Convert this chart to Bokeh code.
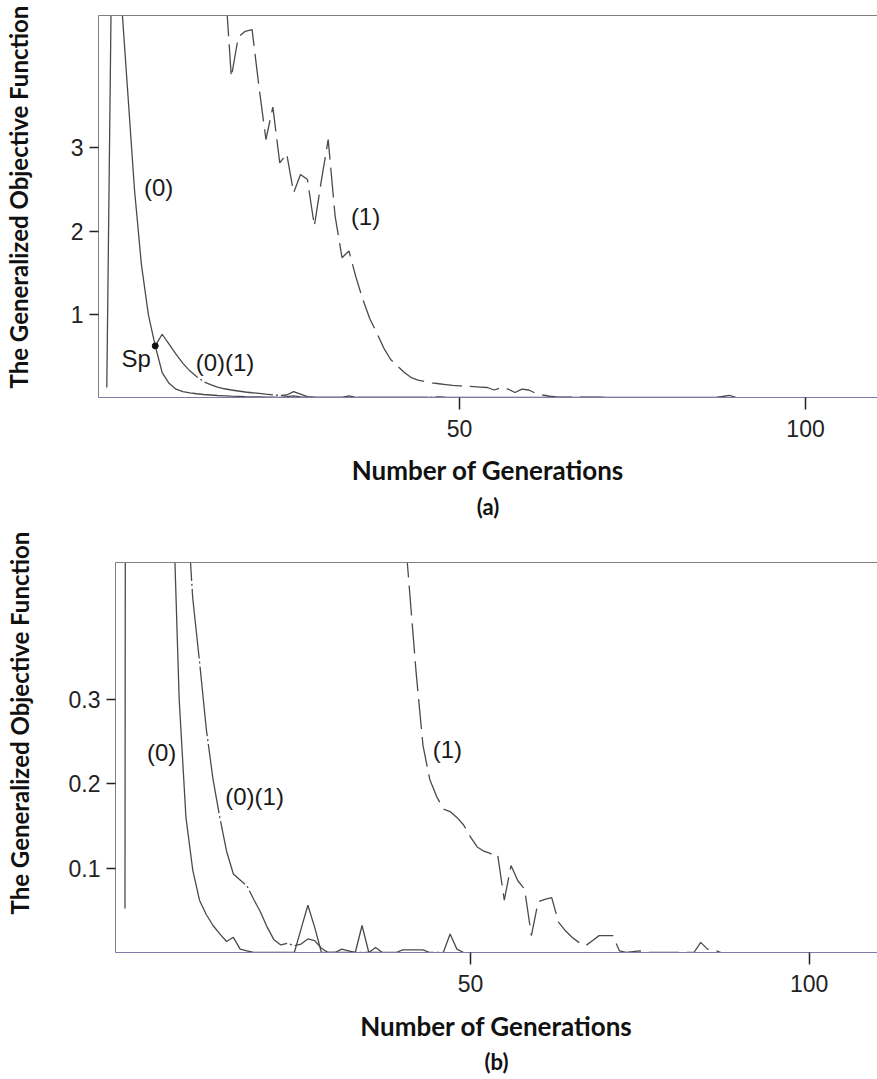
from bokeh.plotting import figure
from bokeh.models import Range1d, LinearAxis, FixedTicker, Label, Title
from bokeh.embed import file_html
from bokeh.resources import INLINE

# ---------------- panel (a) data ----------------
a0_gen = [-1, 0, 1, 2, 3, 4, 5, 6, 7, 8, 9, 10, 11, 12, 13, 14, 15, 16, 17, 18, 19, 20,
          21, 22, 23, 24, 25, 26, 27, 28, 33, 34, 35, 87, 88, 89, 90]
a0_val = [0.12, 7.5, 4.9, 3.7, 2.5, 1.6, 1.0, 0.62, 0.30, 0.17, 0.10, 0.07, 0.055, 0.045,
          0.036, 0.03, 0.024, 0.02, 0.016, 0.013, 0.01, 0.008, 0.006, 0.004, 0.003, 0.002,
          0.01, 0.02, 0.008, 0.0, 0.0, 0.02, 0.0, 0.0, 0.012, 0.025, 0.0]

a01_gen = [6, 7, 8, 9, 10, 11, 12, 13, 14, 15, 16, 17, 18, 19, 20, 21, 22, 23, 24, 25, 26,
           27, 28, 29, 30, 46, 47, 48]
a01_val = [0.62, 0.76, 0.64, 0.52, 0.41, 0.32, 0.25, 0.19, 0.155, 0.125, 0.105, 0.09, 0.078,
           0.066, 0.057, 0.05, 0.04, 0.032, 0.025, 0.03, 0.07, 0.04, 0.01, 0.004, 0.0, 0.0,
           0.008, 0.0]

a1_gen = [13, 14, 15, 16, 17, 18, 19, 20, 21, 22, 23, 24, 25, 26, 27, 28, 29, 30, 31, 32, 33,
          34, 35, 36, 37, 38, 39, 40, 41, 42, 43, 44, 45, 46, 47, 48, 49, 50, 51, 52, 53, 54,
          55, 56, 57, 58, 59, 60, 61, 62, 63, 64, 65, 70, 71]
a1_val = [12.0, 10.0, 7.5, 5.1, 3.85, 4.33, 4.40, 4.42, 3.73, 3.10, 3.49, 2.82, 2.93, 2.46,
          2.68, 2.62, 2.06, 2.6, 3.10, 2.18, 1.68, 1.76, 1.45, 1.18, 0.95, 0.78, 0.6, 0.46,
          0.38, 0.3, 0.24, 0.21, 0.19, 0.175, 0.165, 0.155, 0.145, 0.14, 0.135, 0.13, 0.125,
          0.12, 0.09, 0.12, 0.1, 0.06, 0.1, 0.09, 0.05, 0.03, 0.015, 0.008, 0.005, 0.005, 0.0]

# ---------------- panel (b) data ----------------
b0_gen = [-1, 0, 1, 2, 3, 4, 5, 6, 7, 8, 9, 10, 11, 12, 13, 14, 15, 16, 17, 18, 24, 25, 26,
          27, 28, 33, 34, 35, 36, 37]
b0_val = [0.052, 9.0, 4.9, 3.7, 2.5, 1.6, 1.0, 0.56, 0.30, 0.16, 0.098, 0.062, 0.045, 0.032,
          0.022, 0.013, 0.018, 0.004, 0.002, 0.0, 0.0, 0.028, 0.056, 0.03, 0.0, 0.0, 0.032,
          0.0, 0.006, 0.0]

b01_gen = [7, 8, 9, 10, 11, 12, 13, 14, 15, 16, 17, 18, 19, 20, 21, 22, 23, 24, 25, 26, 27,
           28, 29, 30, 31, 32, 33, 39, 40, 43, 44, 46, 47, 48, 49]
b01_val = [0.8, 0.55, 0.42, 0.345, 0.265, 0.205, 0.16, 0.12, 0.093, 0.086, 0.079, 0.063,
           0.048, 0.03, 0.015, 0.009, 0.011, 0.008, 0.01, 0.016, 0.014, 0.005, 0.0, 0.0,
           0.004, 0.002, 0.0, 0.0, 0.003, 0.003, 0.0, 0.0, 0.022, 0.004, 0.0]

b1_gen = [36, 37, 38, 39, 40, 41, 42, 43, 44, 45, 46, 47, 48, 49, 50, 51, 52, 53, 54, 55, 56,
          57, 58, 59, 60, 61, 62, 63, 64, 65, 66, 67, 68, 69, 70, 71, 72, 73, 75, 76, 83, 84,
          85, 86, 87]
b1_val = [3.0, 2.0, 1.2, 0.8, 0.53, 0.43, 0.33, 0.245, 0.205, 0.185, 0.17, 0.167, 0.16, 0.151,
          0.137, 0.125, 0.12, 0.117, 0.117, 0.062, 0.103, 0.085, 0.075, 0.02, 0.06, 0.063,
          0.065, 0.036, 0.026, 0.018, 0.012, 0.008, 0.014, 0.02, 0.02, 0.02, 0.002, 0.0,
          0.002, 0.0, 0.0, 0.012, 0.004, 0.003, 0.0]

x_ticks = [50, 100]
a_y_ticks = [1, 2, 3]
b_y_ticks = [0.1, 0.2, 0.3]
y_title = "The Generalized Objective Function"
x_title = "Number of Generations"

LINE = "#4a4a4a"
TICK_FONT = "Liberation Sans"
TITLE_FONT = "Lato"
DASH_01 = "70 3 2 3"
DASH_1 = "30 8"


def panel(width, height, xr, yr, yticks, b_top, b_bottom, b_left, tag,
          spacer, ytitle_offset, xtitle_standoff, tag_standoff):
    p = figure(width=width, height=height, x_range=Range1d(*xr), y_range=Range1d(*yr),
               output_backend="svg", toolbar_location=None,
               min_border_left=b_left, min_border_right=0, min_border_top=b_top,
               min_border_bottom=b_bottom)
    p.outline_line_color = None
    p.grid.visible = False

    xa = p.xaxis[0]
    xa.ticker = FixedTicker(ticks=x_ticks)
    xa.major_tick_out = 12
    xa.major_tick_in = 0
    xa.minor_tick_line_color = None
    xa.axis_line_color = "#7c7ca6"
    xa.major_tick_line_color = "#222222"
    xa.major_tick_line_width = 1.5
    xa.major_label_text_font = TICK_FONT
    xa.major_label_text_font_size = "23px"
    xa.major_label_text_color = "#222222"
    xa.major_label_standoff = 10
    xa.axis_label = x_title
    xa.axis_label_text_font = TITLE_FONT
    xa.axis_label_text_font_style = "bold"
    xa.axis_label_text_font_size = "26px"
    xa.axis_label_text_color = "#111111"
    xa.axis_label_standoff = xtitle_standoff

    ya = p.yaxis[0]
    ya.ticker = FixedTicker(ticks=yticks)
    ya.major_tick_out = 9
    ya.major_tick_in = 0
    ya.minor_tick_line_color = None
    ya.axis_line_color = "#808080"
    ya.major_tick_line_color = "#222222"
    ya.major_tick_line_width = 1.5
    ya.major_label_text_font = TICK_FONT
    ya.major_label_text_font_size = "23px"
    ya.major_label_text_color = "#222222"
    ya.major_label_standoff = 6

    # blank axis used only as horizontal spacing between tick labels and the title
    sp = LinearAxis(ticker=FixedTicker(ticks=yticks), axis_line_color=None,
                    major_tick_out=spacer, major_tick_in=0, major_tick_line_color="#ffffff",
                    major_tick_line_alpha=0.0,
                    minor_tick_out=0, minor_tick_line_color=None,
                    major_label_text_font_size="1px", major_label_text_color=None,
                    major_label_standoff=0)
    p.add_layout(sp, "left")

    yt = Title(text=y_title, align="left", offset=ytitle_offset, standoff=2,
               vertical_align="bottom", text_font=TITLE_FONT, text_font_style="bold",
               text_font_size="24px", text_color="#111111")
    p.add_layout(yt, "left")

    top = LinearAxis(ticker=FixedTicker(ticks=[]), axis_line_color="#808080",
                     major_tick_out=0, major_tick_in=0, minor_tick_line_color=None,
                     major_label_text_font_size="1px", major_label_text_color=None,
                     major_label_standoff=0)
    p.add_layout(top, "above")

    tt = Title(text=tag, align="center", standoff=tag_standoff, text_font=TITLE_FONT,
               text_font_style="bold", text_font_size="22px", text_color="#111111")
    p.add_layout(tt, "below")
    return p


def note(p, x, y, text, align="center"):
    p.add_layout(Label(x=x, y=y, text=text, text_font=TICK_FONT, text_font_size="24px",
                       text_color="#1a1a1a", text_align=align, text_baseline="middle"))


# ---------------- figure (a) ----------------
pa = panel(877, 524, (-2.2, 110.4), (0, 4.59), a_y_ticks, 15, 127, 98, "(a)",
           34, 9, 14, 4)
pa.line(a0_gen, a0_val, line_color=LINE, line_width=1.3)
pa.line(a01_gen, a01_val, line_color=LINE, line_width=1.3, line_dash=DASH_01)
pa.line(a1_gen, a1_val, line_color=LINE, line_width=1.3, line_dash=DASH_1)
pa.scatter([a01_gen[0]], [a01_val[0]], size=6, color="#111111")
note(pa, 6.5, 2.52, "(0)")
note(pa, 36.4, 2.17, "(1)")
note(pa, 5.35, 0.47, "Sp", "right")
note(pa, 11.85, 0.42, "(0)(1)", "left")

# ---------------- figure (b) ----------------
pb = panel(877, 555, (-2.4, 110.1), (0, 0.462), b_y_ticks, 38, 127, 115, "(b)",
           31, 38, 15, 3)
pb.line(b0_gen, b0_val, line_color=LINE, line_width=1.3)
pb.line(b01_gen, b01_val, line_color=LINE, line_width=1.3, line_dash=DASH_01)
pb.line(b1_gen, b1_val, line_color=LINE, line_width=1.3, line_dash=DASH_1)
note(pb, 4.4, 0.237, "(0)")
note(pb, 13.8, 0.185, "(0)(1)", "left")
note(pb, 46.6, 0.24, "(1)")

open("out.html", "w").write(file_html([pa, pb], INLINE))
